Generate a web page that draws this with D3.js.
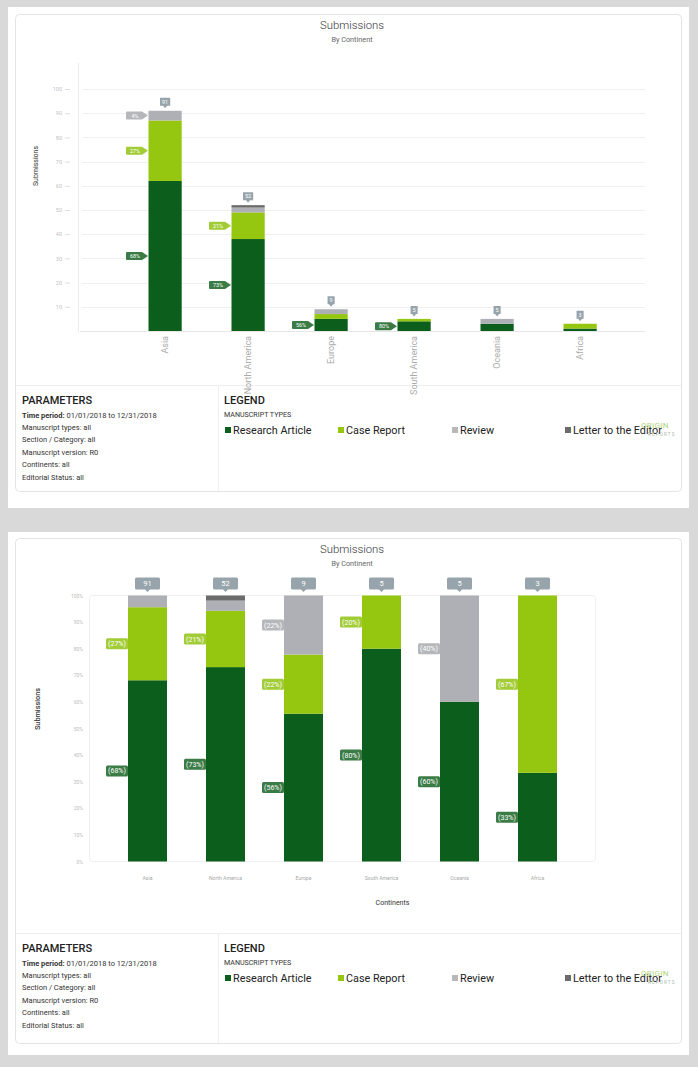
<!DOCTYPE html>
<html><head><meta charset="utf-8">
<script src="https://cdn.jsdelivr.net/npm/d3@7"></script>
<style>
html,body{margin:0;padding:0;background:#d9d9d9;}
svg{display:block;font-family:Roboto,"Noto Sans",sans-serif;}
</style></head><body>
<svg id="c" width="698" height="1067"></svg>
<script>
// ---------- DATA ----------
const continents = ["Asia", "North America", "Europe", "South America", "Oceania", "Africa"];
const manuscriptTypes = ["Research Article", "Case Report", "Review", "Letter to the Editor"];
const researchArticle = [62, 38, 5, 4, 3, 1];
const caseReport      = [25, 11, 2, 1, 0, 2];
const review          = [4, 2, 2, 0, 2, 0];
const letterToEditor  = [0, 1, 0, 0, 0, 0];
const countTicks = [10, 20, 30, 40, 50, 60, 70, 80, 90, 100];
const percentTicks = [0, 10, 20, 30, 40, 50, 60, 70, 80, 90, 100];
const paramLabels = ["Time period:", "Manuscript types:", "Section / Category:", "Manuscript version:", "Continents:", "Editorial Status:"];
const paramValues = ["01/01/2018 to 12/31/2018", "all", "all", "R0", "all", "all"];

// ---------- STYLE ----------
const typeColors = ["#0b5e1b", "#95c711", "#afb0b5", "#6b6b6b"];
const tagColors  = ["#3b7b46", "#a2cc36", "#b6b7bb", "#7d7d7d"];
const legendColors = ["#0b5e1b", "#95c711", "#b8b8b8", "#6b6b6b"];
const totalColor = "#97a4ab";

const rows = continents.map((c, i) => ({
  continent: c,
  "Research Article": researchArticle[i],
  "Case Report": caseReport[i],
  "Review": review[i],
  "Letter to the Editor": letterToEditor[i]
}));
rows.forEach(r => r.total = d3.sum(manuscriptTypes, k => r[k]));

const svg = d3.select("#c");

// ---------- FRAMES ----------
function frame(pageY, pageH, cardY, cardH, divY) {
  svg.append("rect").attr("x", 8).attr("y", pageY).attr("width", 681).attr("height", pageH).attr("fill", "#fff");
  svg.append("rect").attr("x", 15.5).attr("y", cardY + .5).attr("width", 666).attr("height", cardH)
    .attr("rx", 4).attr("fill", "#fff").attr("stroke", "#e4e4e4");
  svg.append("line").attr("x1", 16).attr("x2", 681).attr("y1", divY + .5).attr("y2", divY + .5).attr("stroke", "#eeeeee");
  svg.append("line").attr("x1", 218.5).attr("x2", 218.5).attr("y1", divY).attr("y2", cardY + cardH).attr("stroke", "#eeeeee");
}
frame(7, 501, 14, 477, 385);
frame(532, 523, 538, 505, 933);

function titles(y) {
  svg.append("text").attr("x", 352).attr("y", y).attr("text-anchor", "middle")
    .attr("font-size", 11.3).attr("font-weight", 300).attr("fill", "#333").text("Submissions");
  svg.append("text").attr("x", 352).attr("y", y + 13).attr("text-anchor", "middle")
    .attr("font-size", 7.3).attr("font-weight", 400).attr("fill", "#666").text("By Continent");
}
titles(29);
titles(553);

// ---------- FOOTER ----------
function footer(divY) {
  const g = svg.append("g");
  g.append("text").attr("x", 22).attr("y", divY + 19).attr("font-size", 11).attr("font-weight", 500)
    .attr("fill", "#222").text("PARAMETERS");
  paramLabels.forEach((lab, i) => {
    const t = g.append("text").attr("x", 22).attr("y", divY + 32.5 + i * 12.4).attr("font-size", 7.5).attr("fill", "#333");
    if (i === 0) {
      t.append("tspan").attr("font-weight", 700).text(lab + " ");
      t.append("tspan").text(paramValues[i]);
    } else {
      t.text(lab + " " + paramValues[i]);
    }
  });
  g.append("text").attr("x", 224).attr("y", divY + 19).attr("font-size", 11).attr("font-weight", 500)
    .attr("fill", "#222").text("LEGEND");
  g.append("text").attr("x", 224).attr("y", divY + 32).attr("font-size", 7.1).attr("fill", "#333").text("MANUSCRIPT TYPES");
  const lx = [225, 338, 452, 565];
  manuscriptTypes.forEach((m, i) => {
    g.append("rect").attr("x", lx[i]).attr("y", divY + 42).attr("width", 6).attr("height", 6).attr("fill", legendColors[i]);
    g.append("text").attr("x", lx[i] + 8).attr("y", divY + 49).attr("font-size", 10.8).attr("fill", "#222").text(m);
  });
  g.append("text").attr("x", 641).attr("y", divY + 43).attr("font-size", 8).attr("letter-spacing", 0.3)
    .attr("fill", "#a6cf6a").attr("opacity", 0.9).text("ORIGIN");
  g.append("text").attr("x", 648).attr("y", divY + 50.5).attr("font-size", 4.5).attr("letter-spacing", 1.2)
    .attr("fill", "#a9b8a4").text("REPORTS");
}
footer(385);
footer(933);

// ---------- TOP CHART (counts) ----------
(function () {
  const y = d3.scaleLinear().domain([0, 100]).range([331, 89]);
  const x = d3.scaleBand().domain(continents).range([123.6, 621.6]).paddingInner(0.6).paddingOuter(0.3);
  const g = svg.append("g");

  g.selectAll(".grid").data(countTicks).join("line")
    .attr("x1", 82).attr("x2", 645).attr("y1", d => Math.round(y(d)) + .5).attr("y2", d => Math.round(y(d)) + .5)
    .attr("stroke", "#f0f0f0");
  g.append("line").attr("x1", 80).attr("x2", 645).attr("y1", y(0) + .5).attr("y2", y(0) + .5).attr("stroke", "#e6e6e6");
  g.append("line").attr("x1", 78.5).attr("x2", 78.5).attr("y1", 63).attr("y2", 333).attr("stroke", "#ececec");

  const ya = g.append("g").attr("transform", "translate(70,0)")
    .call(d3.axisLeft(y).tickValues(countTicks).tickSize(5).tickPadding(3));
  ya.select(".domain").remove();
  ya.selectAll("line").attr("stroke", "#dedede");
  ya.selectAll("text").attr("font-size", 5.5).attr("fill", "#c2c2c2").attr("font-family", "Roboto");

  g.append("text").attr("transform", "translate(38,166) rotate(-90)").attr("text-anchor", "middle")
    .attr("font-size", 7).attr("fill", "#333").text("Submissions");

  const xa = g.append("g").attr("transform", `translate(0,${y(0)})`).call(d3.axisBottom(x).tickSize(0));
  xa.select(".domain").remove();
  xa.selectAll("text").attr("transform", "rotate(-90)").attr("text-anchor", "end")
    .attr("x", -5).attr("y", 0).attr("dy", "0.35em")
    .attr("font-size", 9).attr("fill", "#ababab").attr("font-family", "Roboto");

  const series = d3.stack().keys(manuscriptTypes)(rows);
  series.forEach((s, si) => {
    g.append("g").selectAll("rect").data(s.filter(d => d[1] > d[0])).join("rect")
      .attr("x", d => x(d.data.continent)).attr("width", x.bandwidth())
      .attr("y", d => y(d[1])).attr("height", d => y(d[0]) - y(d[1]))
      .attr("fill", typeColors[si]);
  });
  // percent tags
  series.forEach((s, si) => {
    s.filter(d => y(d[0]) - y(d[1]) >= 9).forEach(d => {
      const tip = x(d.data.continent) - 0.5, cy = (y(d[0]) + y(d[1])) / 2;
      const l = tip - 22, b = tip - 6;
      g.append("path").attr("d", `M${l + 1},${cy - 4}H${b}L${tip},${cy}L${b},${cy + 4}H${l + 1}Q${l},${cy + 4} ${l},${cy + 3}V${cy - 3}Q${l},${cy - 4} ${l + 1},${cy - 4}Z`)
        .attr("fill", tagColors[si]);
      g.append("text").attr("x", (l + b) / 2 + 1).attr("y", cy).attr("dy", "0.36em").attr("text-anchor", "middle")
        .attr("font-size", 5.4).attr("fill", "#fff").text(Math.round(d.data[s.key] / d.data.total * 100) + "%");
    });
  });
  // totals
  rows.forEach(r => {
    const cx = x(r.continent) + x.bandwidth() / 2, bot = y(r.total) - 5;
    const grp = g.append("g");
    const t = grp.append("text").attr("x", cx).attr("y", bot - 4).attr("dy", "0.36em").attr("text-anchor", "middle")
      .attr("font-size", 5.5).attr("fill", "#fff").text(r.total);
    const w = t.node().getComputedTextLength() + 4;
    grp.insert("path", "text").attr("d", `M${cx - w / 2},${bot - 8}H${cx + w / 2}V${bot}H${cx + 2}L${cx},${bot + 2.5}L${cx - 2},${bot}H${cx - w / 2}Z`)
      .attr("fill", totalColor);
  });
})();

// ---------- BOTTOM CHART (percent) ----------
(function () {
  const y = d3.scaleLinear().domain([0, 1]).range([861.5, 595.5]);
  const x = d3.scaleBand().domain(continents).range([89, 596]).paddingInner(0.5).paddingOuter(0.5);
  const g = svg.append("g");

  g.append("rect").attr("x", 89.5).attr("y", y(1)).attr("width", 506).attr("height", y(0) - y(1))
    .attr("rx", 3).attr("fill", "none").attr("stroke", "#efefef");

  const ya = g.append("g").attr("transform", "translate(84,0)")
    .call(d3.axisLeft(y).tickValues(percentTicks.map(v => v / 100)).tickFormat(d => Math.round(d * 100) + "%").tickSize(0).tickPadding(1));
  ya.select(".domain").remove();
  ya.selectAll("text").attr("font-size", 5).attr("fill", "#bbbbbb").attr("font-family", "Roboto");

  g.append("text").attr("transform", "translate(40,709) rotate(-90)").attr("text-anchor", "middle")
    .attr("font-size", 7.3).attr("font-weight", 500).attr("fill", "#333").text("Submissions");

  const xa = g.append("g").attr("transform", `translate(0,${y(0)})`).call(d3.axisBottom(x).tickSize(0).tickPadding(14.5));
  xa.select(".domain").remove();
  xa.selectAll("text").attr("font-size", 5.1).attr("fill", "#a8a8a8").attr("font-family", "Roboto");

  g.append("text").attr("x", 392.5).attr("y", 904.5).attr("text-anchor", "middle")
    .attr("font-size", 7).attr("fill", "#333").text("Continents");

  const series = d3.stack().keys(manuscriptTypes).offset(d3.stackOffsetExpand)(rows);
  series.forEach((s, si) => {
    g.append("g").selectAll("rect").data(s.filter(d => d[1] > d[0])).join("rect")
      .attr("x", d => x(d.data.continent)).attr("width", x.bandwidth())
      .attr("y", d => y(d[1])).attr("height", d => y(d[0]) - y(d[1]))
      .attr("fill", typeColors[si]);
  });
  series.forEach((s, si) => {
    s.filter(d => y(d[0]) - y(d[1]) >= 13).forEach(d => {
      const r = x(d.data.continent), cy = (y(d[0]) + y(d[1])) / 2;
      g.append("rect").attr("x", r - 22).attr("y", cy - 5.5).attr("width", 22).attr("height", 11).attr("rx", 1.5)
        .attr("fill", tagColors[si]);
      g.append("text").attr("x", r - 11).attr("y", cy).attr("dy", "0.36em").attr("text-anchor", "middle")
        .attr("font-size", 7).attr("fill", "#fff").text("(" + Math.round(d.data[s.key] / d.data.total * 100) + "%)");
    });
  });
  rows.forEach(r => {
    const cx = x(r.continent) + x.bandwidth() / 2, top = y(1) - 18, bot = top + 12;
    g.append("path").attr("d", `M${cx - 12.5},${top + 1.5}Q${cx - 12.5},${top} ${cx - 11},${top}H${cx + 11}Q${cx + 12.5},${top} ${cx + 12.5},${top + 1.5}V${bot - 1.5}Q${cx + 12.5},${bot} ${cx + 11},${bot}H${cx + 2.5}L${cx},${bot + 2.5}L${cx - 2.5},${bot}H${cx - 11}Q${cx - 12.5},${bot} ${cx - 12.5},${bot - 1.5}Z`)
      .attr("fill", totalColor);
    g.append("text").attr("x", cx).attr("y", top + 6).attr("dy", "0.36em").attr("text-anchor", "middle")
      .attr("font-size", 7.5).attr("fill", "#fff").text(r.total);
  });
})();
</script>
</body></html>
